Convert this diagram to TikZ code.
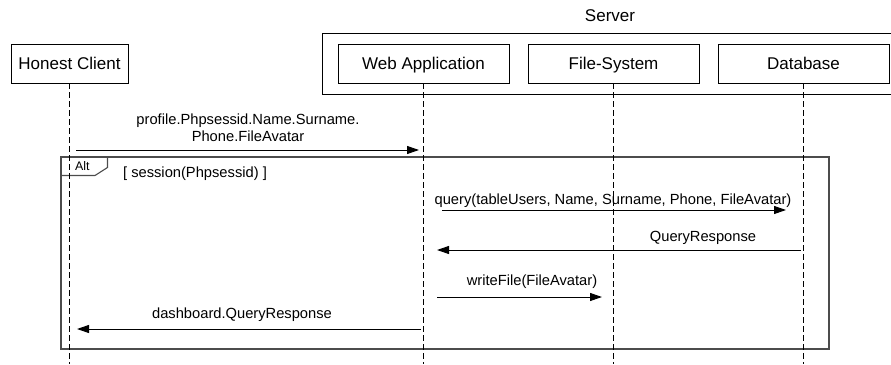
\documentclass[tikz,border=0pt]{standalone}
\usepackage{fontspec}
\setmainfont{Liberation Sans}
\usetikzlibrary{arrows.meta}
\begin{document}
\begin{tikzpicture}[x=1pt,y=-1pt,
  every node/.style={inner sep=0pt, outer sep=0pt},
  box/.style={draw, line width=1pt, minimum width=171pt, minimum height=39pt,
    font=\fontsize{17}{20}\selectfont, text height=12.2pt, text depth=0pt},
  lifeline/.style={line width=0.9pt, dash pattern=on 5.5pt off 3.5pt},
  msg/.style={line width=1pt, -{Triangle[length=12pt,width=8pt]}},
  msglabel/.style={font=\fontsize{14.7}{17.5}\selectfont, align=center},
  frame/.style={line width=1.1pt, draw=black!70},
]
\clip (0,0) rectangle (891,364);

% server group
\node[draw, line width=1pt, minimum width=580pt, minimum height=61pt] (server) at (612,63.5) {};
\node[font=\fontsize{17}{20}\selectfont, anchor=base] (servertitle) at (610,21) {Server};

% participants
\node[box, minimum width=117pt] (hc) at (69.5,63.5) {Honest Client};
\node[box] (web) at (423.5,63.5) {Web Application};
\node[box] (fs)  at (613.5,63.5) {File-System};
\node[box] (db)  at (803.5,63.5) {Database};

% lifeline ends
\coordinate (hcend)  at (69.5,364);
\coordinate (webend) at (423.5,364);
\coordinate (fsend)  at (613.5,364);
\coordinate (dbend)  at (803.5,364);

% alt fragment
\node[frame, draw, minimum width=768pt, minimum height=192pt] (alt) at (445,253) {};
\draw[frame] (alt.north west) -- ++(46.5,0) -- ++(0,10.5) -- ++(-12.5,8) -- ++(-34,0);
\node[font=\fontsize{12.4}{15}\selectfont, anchor=base west] (altlabel) at (75,170) {Alt};
\node[msglabel, anchor=base] (guard) at (195,177) {[ session(Phpsessid) ]};

% lifelines
\draw[lifeline] (hc.south) -- (hcend);
\draw[lifeline] (web.south) -- (webend);
\draw[lifeline] (fs.south) -- (fsend);
\draw[lifeline] (db.south) -- (dbend);

% message anchors
\coordinate (m1s) at (76,150);   \coordinate (m1e) at (419,150);
\coordinate (m2s) at (442,210);  \coordinate (m2e) at (786,210);
\coordinate (m3s) at (801,250);  \coordinate (m3e) at (437,250);
\coordinate (m4s) at (437,297);  \coordinate (m4e) at (602,297);
\coordinate (m5s) at (421,329);  \coordinate (m5e) at (77,329);

% messages
\draw[msg] (m1s) -- (m1e);
\node[msglabel] (l1) at (248,127.5) {profile.Phpsessid.Name.Surname.\\Phone.FileAvatar};
\draw[msg] (m2s) -- (m2e);
\node[msglabel, anchor=base] (l2) at (613,204) {query(tableUsers, Name, Surname, Phone, FileAvatar)};
\draw[msg] (m3s) -- (m3e);
\node[msglabel, anchor=base] (l3) at (703,241) {QueryResponse};
\draw[msg] (m4s) -- (m4e);
\node[msglabel, anchor=base] (l4) at (532,285) {writeFile(FileAvatar)};
\draw[msg] (m5s) -- (m5e);
\node[msglabel, anchor=base] (l5) at (242,318) {dashboard.QueryResponse};
\end{tikzpicture}
\end{document}
